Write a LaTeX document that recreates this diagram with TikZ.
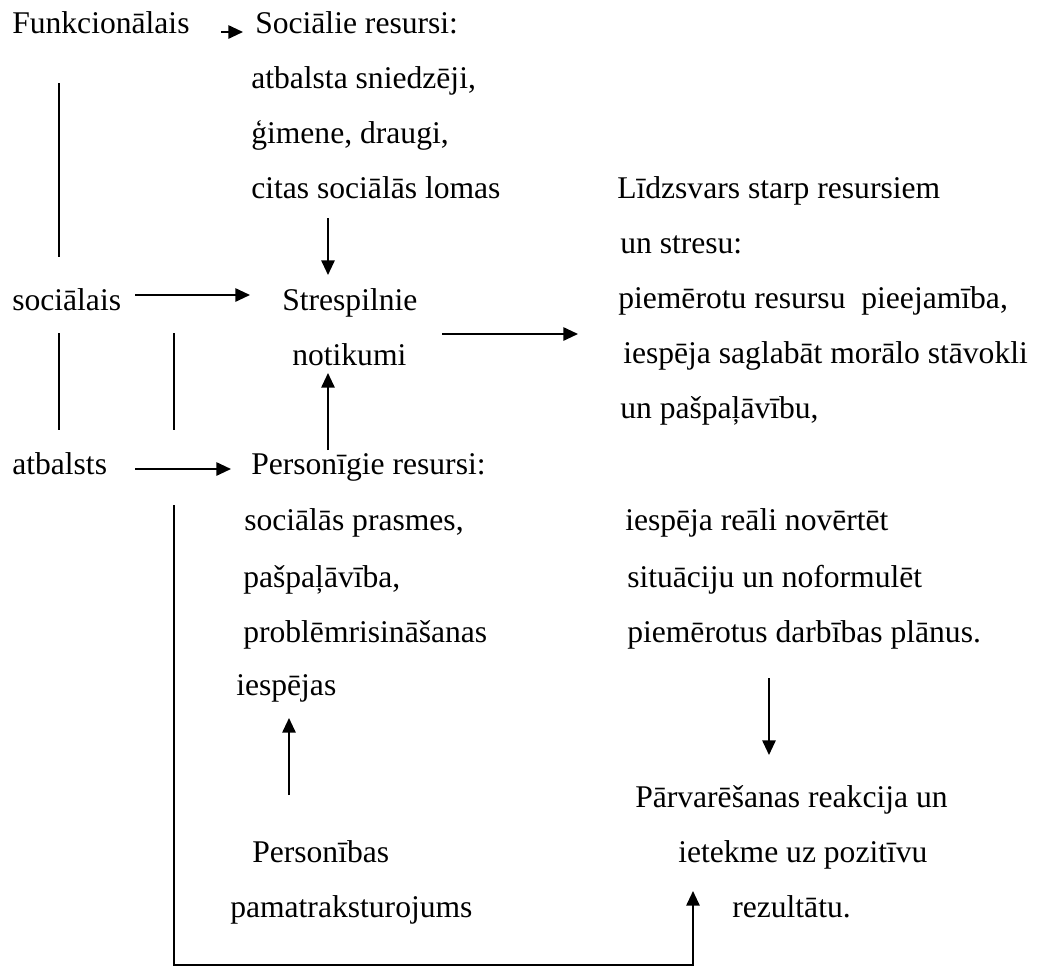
\documentclass[tikz,border=0pt]{standalone}
\usepackage{fontspec}
\setmainfont{Liberation Serif}
\usetikzlibrary{arrows.meta}
\begin{document}
\begin{tikzpicture}[x=0.75pt,y=-0.75pt,
  lbl/.style={anchor=base west,inner sep=0pt,font=\fontsize{23.7}{28}\selectfont},
  conn/.style={line width=1.4pt},
  arr/.style={conn,-{Triangle[length=11pt,width=10pt]}}]
\path[use as bounding box] (0,0) rectangle (1040,968);
% left column
\node[lbl] (funk) at (12,33) {Funkcionālais};
\node[lbl] (soc) at (12,310) {sociālais};
\node[lbl] (atb) at (12,474) {atbalsts};
% social resources
\node[lbl] (socres) at (255,33) {Sociālie resursi:};
\node[lbl] (s1) at (251,88) {atbalsta sniedzēji,};
\node[lbl] (s2) at (251,143) {ģimene, draugi,};
\node[lbl] (s3) at (251,198) {citas sociālās lomas};
% stress events
\node[lbl] (str1) at (282,310) {Strespilnie};
\node[lbl] (str2) at (292,365) {notikumi};
% personal resources
\node[lbl] (pers) at (251,474) {Personīgie resursi:};
\node[lbl] (p1) at (244,530) {sociālās prasmes,};
\node[lbl] (p2) at (243,587) {pašpaļāvība,};
\node[lbl] (p3) at (243,642) {problēmrisināšanas};
\node[lbl] (p4) at (236,695) {iespējas};
\node[lbl] (pb1) at (252,862) {Personības};
\node[lbl] (pb2) at (230,917) {pamatraksturojums};
% balance
\node[lbl] (l1) at (617,198) {Līdzsvars starp resursiem};
\node[lbl] (l2) at (620,253) {un stresu:};
\node[lbl] (l3) at (618,308) {piemērotu resursu\ \ pieejamība,};
\node[lbl] (l4) at (623,363) {iespēja saglabāt morālo stāvokli};
\node[lbl] (l5) at (620,418) {un pašpaļāvību,};
\node[lbl] (l6) at (625,530) {iespēja reāli novērtēt};
\node[lbl] (l7) at (627,587) {situāciju un noformulēt};
\node[lbl] (l8) at (627,642) {piemērotus darbības plānus.};
% outcome
\node[lbl] (r1) at (635,807) {Pārvarēšanas reakcija un};
\node[lbl] (r2) at (678,862) {ietekme uz pozitīvu};
\node[lbl] (r3) at (732,917) {rezultātu.};
% connector end points
\coordinate (a0) at (221,32);  \coordinate (a1) at (243,32);
\coordinate (v1a) at (59,83);  \coordinate (v1b) at (59,257);
\coordinate (d1a) at (328,218); \coordinate (d1b) at (328,275);
\coordinate (h1a) at (135,295); \coordinate (h1b) at (250,295);
\coordinate (v2a) at (59,333); \coordinate (v2b) at (59,430);
\coordinate (v3a) at (174,333); \coordinate (v3b) at (174,430);
\coordinate (u1a) at (328,450); \coordinate (u1b) at (328,373);
\coordinate (h2a) at (135,469); \coordinate (h2b) at (231,469);
\coordinate (h3a) at (442,334); \coordinate (h3b) at (578,334);
\coordinate (u2a) at (289,795); \coordinate (u2b) at (289,718);
\coordinate (d2a) at (769,678); \coordinate (d2b) at (769,755);
\coordinate (b0) at (174,505); \coordinate (b1) at (174,965);
\coordinate (b2) at (693,965); \coordinate (b3) at (693,891);
% connectors
\draw[arr] (a0) -- (a1);
\draw[conn] (v1a) -- (v1b);
\draw[arr] (d1a) -- (d1b);
\draw[arr] (h1a) -- (h1b);
\draw[conn] (v2a) -- (v2b);
\draw[conn] (v3a) -- (v3b);
\draw[arr] (u1a) -- (u1b);
\draw[arr] (h2a) -- (h2b);
\draw[arr] (h3a) -- (h3b);
\draw[arr] (u2a) -- (u2b);
\draw[arr] (d2a) -- (d2b);
\draw[arr] (b0) -- (b1) -- (b2) -- (b3);
\end{tikzpicture}
\end{document}
